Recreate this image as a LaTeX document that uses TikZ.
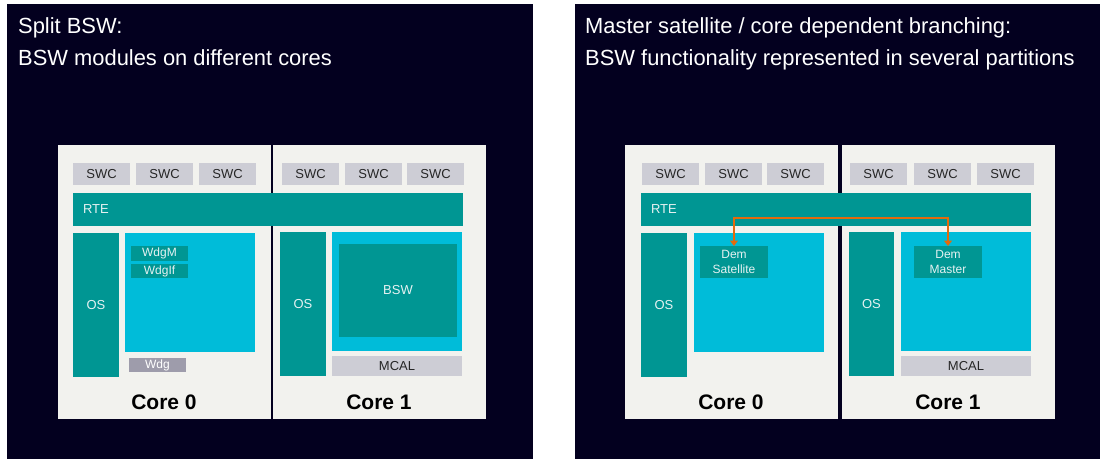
\documentclass[tikz,border=0pt]{standalone}
\usepackage{fontspec}
\setmainfont{Liberation Sans}
\usetikzlibrary{arrows.meta}

\definecolor{navy}{HTML}{03001F}
\definecolor{corebg}{HTML}{F2F2EE}
\definecolor{swcgray}{HTML}{CDCDD5}
\definecolor{teal}{HTML}{009693}
\definecolor{cyanbox}{HTML}{00BCD9}
\definecolor{wdggray}{HTML}{9E9CAB}
\definecolor{arroworange}{HTML}{E36A0C}
\definecolor{lighttext}{HTML}{E6F2F2}

\tikzset{
  blk/.style={anchor=north west, inner sep=0pt, outer sep=0pt, draw=none},
  corebox/.style={blk, fill=corebg},
  swc/.style={blk, fill=swcgray, text=black!85, font=\fontsize{13}{15}\selectfont},
  rte/.style={blk, fill=teal, text=lighttext, font=\fontsize{13}{15}\selectfont,
    align=left, inner xsep=10pt},
  os/.style={blk, fill=teal, text=lighttext, font=\fontsize{13}{15}\selectfont},
  part/.style={blk, fill=cyanbox},
  mod/.style={blk, fill=teal, text=lighttext, font=\fontsize{12}{15}\selectfont, align=center},
  mcal/.style={blk, fill=swcgray, text=black!85, font=\fontsize{13}{15}\selectfont},
  wdg/.style={blk, fill=wdggray, text=white, font=\fontsize{12}{14}\selectfont},
  corelabel/.style={font=\bfseries\fontsize{21}{24}\selectfont, text=black, inner sep=0pt},
  title/.style={anchor=base west, text=white, font=\fontsize{21.9}{24}\selectfont, inner sep=0pt},
  link/.style={draw=arroworange, line width=2.2pt,
    {Triangle[length=5.5pt,width=8pt]}-{Triangle[length=5.5pt,width=8pt]}},
}

\begin{document}
\begin{tikzpicture}[x=1pt,y=-1pt]
  % canvas and the two dark panels
  \fill[white] (0,0) rectangle (1100,459);
  \useasboundingbox (0,0) rectangle (1100,459);
  \fill[navy] (7,4) rectangle (533,459);
  \fill[navy] (575,4) rectangle (1100,459);

  % ---------- left: split BSW ----------
  \node[title] (lt1) at (18,33) {Split BSW:};
  \node[title] (lt2) at (18,65) {BSW modules on different cores};

  \node[corebox, minimum width=213pt, minimum height=274pt] (Lc0) at (58,145) {};
  \node[corebox, minimum width=213pt, minimum height=274pt] (Lc1) at (273,145) {};

  \node[swc, minimum width=57pt, minimum height=22pt] (Ls1) at (73,163) {SWC};
  \node[swc, minimum width=57pt, minimum height=22pt] (Ls2) at (136,163) {SWC};
  \node[swc, minimum width=57pt, minimum height=22pt] (Ls3) at (199,163) {SWC};
  \node[swc, minimum width=57pt, minimum height=22pt] (Ls4) at (282,163) {SWC};
  \node[swc, minimum width=57pt, minimum height=22pt] (Ls5) at (345,163) {SWC};
  \node[swc, minimum width=57pt, minimum height=22pt] (Ls6) at (407,163) {SWC};

  \node[rte, text width=370pt, minimum height=33pt] (Lrte) at (73,193) {RTE};

  \node[os, minimum width=46pt, minimum height=144pt] (Los0) at (73,233) {OS};
  \node[part, minimum width=130pt, minimum height=119pt] (Lp0) at (125,233) {};
  \node[mod, minimum width=57pt, minimum height=15pt] (Lwdgm) at (131,246) {WdgM};
  \node[mod, minimum width=57pt, minimum height=14pt] (Lwdgif) at (131,264) {WdgIf};
  \node[wdg, minimum width=57pt, minimum height=14pt] (Lwdg) at (129,358) {Wdg};

  \node[os, minimum width=46pt, minimum height=144pt] (Los1) at (280,232) {OS};
  \node[part, minimum width=130pt, minimum height=119pt] (Lp1) at (332,232) {};
  \node[mod, minimum width=118pt, minimum height=93pt, font=\fontsize{13}{15}\selectfont] (Lbsw) at (339,244) {BSW};
  \node[mcal, minimum width=130pt, minimum height=20pt] (Lmcal) at (332,356) {MCAL};

  \node[corelabel] (Lk0) at (164,402) {Core 0};
  \node[corelabel] (Lk1) at (379,402) {Core 1};

  % ---------- right: master / satellite ----------
  \node[title] (rt1) at (585,33) {Master satellite / core dependent branching:};
  \node[title] (rt2) at (585,65) {BSW functionality represented in several partitions};

  \node[corebox, minimum width=213pt, minimum height=274pt] (Rc0) at (625,145) {};
  \node[corebox, minimum width=213pt, minimum height=274pt] (Rc1) at (842,145) {};

  \node[swc, minimum width=57pt, minimum height=22pt] (Rs1) at (642,163) {SWC};
  \node[swc, minimum width=57pt, minimum height=22pt] (Rs2) at (705,163) {SWC};
  \node[swc, minimum width=57pt, minimum height=22pt] (Rs3) at (767,163) {SWC};
  \node[swc, minimum width=57pt, minimum height=22pt] (Rs4) at (850,163) {SWC};
  \node[swc, minimum width=57pt, minimum height=22pt] (Rs5) at (914,163) {SWC};
  \node[swc, minimum width=57pt, minimum height=22pt] (Rs6) at (977,163) {SWC};

  \node[rte, text width=370pt, minimum height=33pt] (Rrte) at (641,193) {RTE};

  \node[os, minimum width=46pt, minimum height=144pt] (Ros0) at (641,233) {OS};
  \node[part, minimum width=130pt, minimum height=119pt] (Rp0) at (694,233) {};
  \node[mod, minimum width=68pt, minimum height=32pt] (sat) at (700,246) {Dem\\Satellite};

  \node[os, minimum width=45pt, minimum height=144pt] (Ros1) at (849,232) {OS};
  \node[part, minimum width=130pt, minimum height=119pt] (Rp1) at (901,232) {};
  \node[mod, minimum width=68pt, minimum height=32pt] (mas) at (914,246) {Dem\\Master};
  \node[mcal, minimum width=130pt, minimum height=20pt] (Rmcal) at (901,356) {MCAL};

  \node[corelabel] (Rk0) at (731,402) {Core 0};
  \node[corelabel] (Rk1) at (948,402) {Core 1};

  % communication between satellite and master
  \draw[link] (sat.north) -- ++(0,-28) -| (mas.north);
\end{tikzpicture}
\end{document}
